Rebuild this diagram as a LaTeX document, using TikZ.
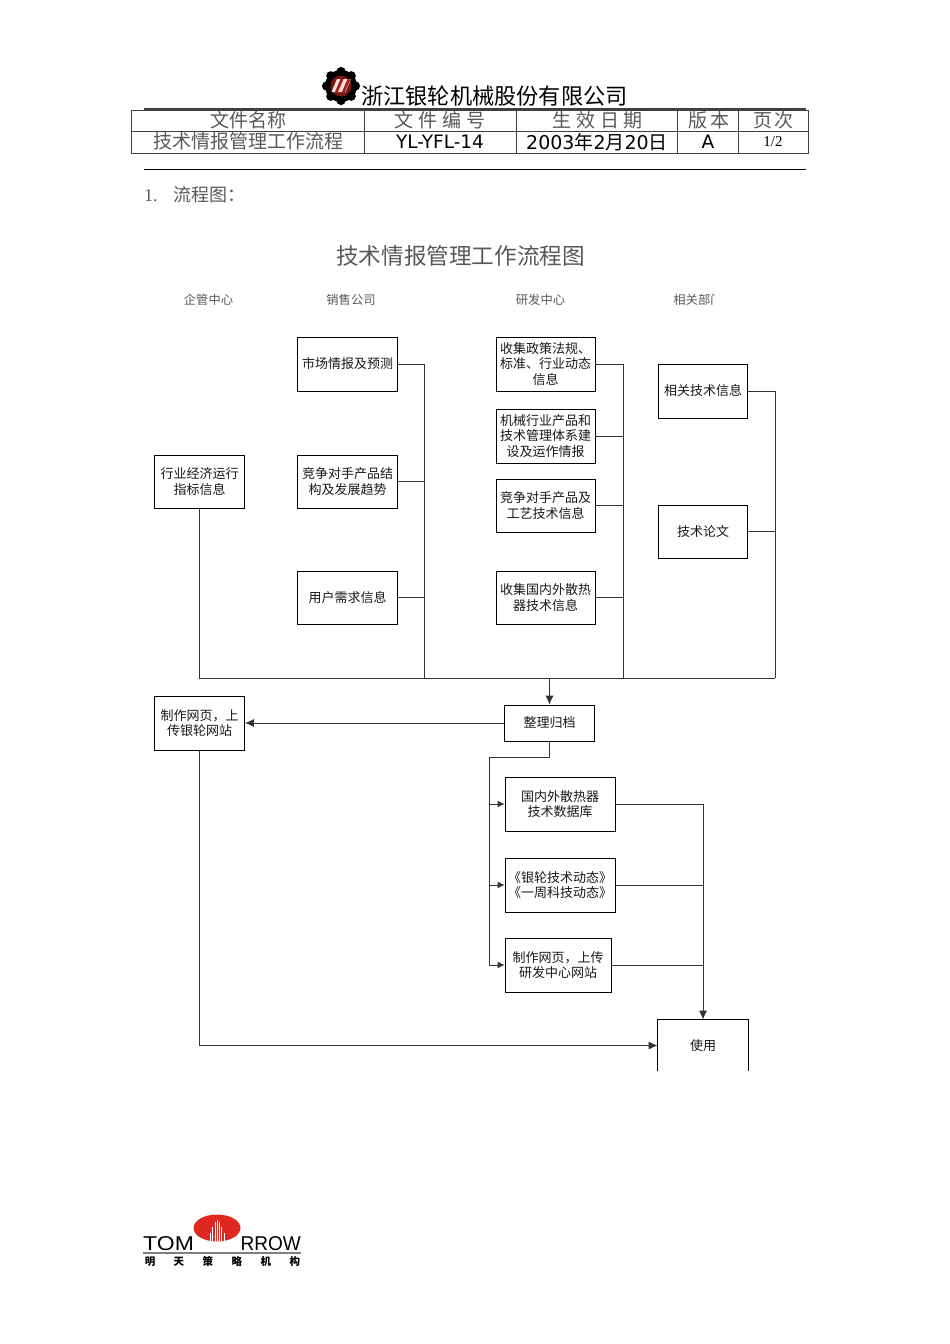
\documentclass[tikz,border=0pt]{standalone}
\usepackage{fontspec}
\usetikzlibrary{arrows.meta}
\setmainfont{Liberation Serif}
\newfontfamily\cjk{Noto Sans CJK SC}
\newfontfamily\dvs{DejaVu Sans}
\newfontfamily\heros{Liberation Sans}
\newcommand{\fs}[1]{\fontsize{#1}{#1}\selectfont}
\definecolor{rulegray}{gray}{0.25}
\definecolor{lightink}{gray}{0.35}
\definecolor{logored}{RGB}{222,40,32}
\tikzset{
  flowbox/.style={draw=black,line width=0.8pt,inner sep=0pt,align=center,font=\cjk\fontsize{13}{15.2}\selectfont,text=black!90},
  link/.style={draw=black!80,line width=0.8pt},
  arrowlink/.style={link,-{Latex[length=9pt,width=8pt]}},
  smallarrow/.style={link,-{Latex[length=7pt,width=7pt]}},
  headcell/.style={inner sep=0pt,text=lightink,font=\cjk\fs{19}},
  lane/.style={inner sep=0pt,text=lightink,font=\cjk\fs{12.3}},
}
\begin{document}
\begin{tikzpicture}[x=1pt,y=-1pt]
\useasboundingbox (0,0) rectangle (950,1344);
\fill[white] (0,0) rectangle (950,1344);

% company logo
\fill[black] (341,86) circle (16);
\foreach \a in {0,45,...,315}{
  \fill[black,rotate around={\a:(341,86)}] (341,71.5) circle (4.6);
}
\fill[logored!55!black] (341,86) circle (10.5);
\fill[white!85!logored] (331.5,92) -- (337,79) -- (351,79) -- (345.5,92) -- cycle;
\fill[logored!75!black] (335,92) -- (340.5,79) -- (343.5,79) -- (338,92) -- cycle;
\fill[logored!75!black] (342,92) -- (347.5,79) -- (350.5,79) -- (345,92) -- cycle;
\node[inner sep=0pt,font=\cjk\fs{22.2},text=black] (company) at (494.5,96) {浙江银轮机械股份有限公司};

% head table
\draw[rulegray,line width=1.6pt] (144,109) -- (806,109);
\draw[rulegray,line width=0.9pt] (131,110) rectangle (808,153);
\draw[rulegray,line width=0.9pt] (131,131) -- (808,131);
\foreach \c in {364,516,677,738}{\draw[rulegray,line width=0.9pt] (\c,110) -- (\c,153);}
\node[headcell] (h1) at (248,120) {文件名称};
\node[headcell] (h2) at (440,120) {文\hspace{5pt}件\hspace{5pt}编\hspace{5pt}号};
\node[headcell] (h3) at (597.5,120) {生\hspace{5pt}效\hspace{5pt}日\hspace{5pt}期};
\node[headcell] (h4) at (709,120) {版\hspace{3pt}本};
\node[headcell] (h5) at (773.5,120) {页\hspace{3pt}次};
\node[headcell] (v1) at (248,141.5) {技术情报管理工作流程};
\node[inner sep=0pt,text=black,font=\dvs\fs{18.5}] (v2) at (440,142) {YL-YFL-14};
\node[inner sep=0pt,text=black,font=\fs{19}] (v3) at (597,142) {{\dvs 2003}{\cjk 年}{\dvs 2}{\cjk 月}{\dvs 20}{\cjk 日}};
\node[inner sep=0pt,text=black,font=\dvs\fs{18.5}] (v4) at (708,142) {A};
\node[inner sep=0pt,text=black,font=\fs{15}] (v5) at (773,142) {1/2};
\draw[black,line width=1pt] (144,169.5) -- (806,169.5);
\node[inner sep=0pt,anchor=west,text=lightink,font=\fs{18}] (sec) at (144,195) {1.\hspace{10pt}{\cjk\fs{18} 流程图：}};

% titles
\node[inner sep=0pt,text=lightink,font=\cjk\fs{22.6}] (title) at (460.5,255.5) {技术情报管理工作流程图};
\node[lane] (l1) at (208.5,299.5) {企管中心};
\node[lane] (l2) at (351,299.5) {销售公司};
\node[lane] (l3) at (540.5,299.5) {研发中心};
\begin{scope}
  \clip (660,285) rectangle (714,315);
  \node[lane] (l4) at (698,299.5) {相关部门};
\end{scope}

% boxes
\node[flowbox,minimum width=90pt,minimum height=53pt] (econ) at (199.5,481.5) {行业经济运行\\指标信息};
\node[flowbox,minimum width=100pt,minimum height=54pt] (market) at (347.5,364) {市场情报及预测};
\node[flowbox,minimum width=100pt,minimum height=53pt] (rival) at (347.5,481.5) {竞争对手产品结\\构及发展趋势};
\node[flowbox,minimum width=100pt,minimum height=53pt] (user) at (347.5,597.5) {用户需求信息};
\node[flowbox,minimum width=99pt,minimum height=54pt] (policy) at (545.5,364) {收集政策法规、\\标准、行业动态\\信息};
\node[flowbox,minimum width=99pt,minimum height=54pt] (mach) at (545.5,436) {机械行业产品和\\技术管理体系建\\设及运作情报};
\node[flowbox,minimum width=99pt,minimum height=53pt] (craft) at (545.5,505.5) {竞争对手产品及\\工艺技术信息};
\node[flowbox,minimum width=99pt,minimum height=53pt] (heat) at (545.5,597.5) {收集国内外散热\\器技术信息};
\node[flowbox,minimum width=89pt,minimum height=54pt] (rel) at (703,391) {相关技术信息};
\node[flowbox,minimum width=89pt,minimum height=53pt] (paper) at (703,531.5) {技术论文};
\node[flowbox,minimum width=90pt,minimum height=54pt] (web) at (199.5,723) {制作网页，上\\传银轮网站};
\node[flowbox,minimum width=90pt,minimum height=36pt] (arch) at (549.5,723) {整理归档};
\node[flowbox,minimum width=110pt,minimum height=54pt] (db) at (560,804) {国内外散热器\\技术数据库};
\node[flowbox,minimum width=110pt,minimum height=54pt] (dyn) at (560,885) {《银轮技术动态》\\《一周科技动态》};
\node[flowbox,minimum width=106pt,minimum height=54pt] (rdweb) at (558,965) {制作网页，上传\\研发中心网站};
\node[flowbox,draw=none,minimum width=90pt,minimum height=51pt] (use) at (703,1045.5) {使用};
\draw[black,line width=0.8pt] (use.south west) -- (use.north west) -- (use.north east) -- (use.south east);

% collecting bus
\coordinate (bL) at (199.5,678);
\coordinate (b1) at (424,678);
\coordinate (bA) at (549.5,678);
\coordinate (b2) at (623,678);
\coordinate (b3) at (775,678);
\draw[link] (econ.south) -- (bL) -- (b3);
\draw[link] (market.east) -| (b1);
\draw[link] (rival.east) -| (b1);
\draw[link] (user.east) -| (b1);
\draw[link] (policy.east) -| (b2);
\draw[link] (mach.east) -| (b2);
\draw[link] (craft.east) -| (b2);
\draw[link] (heat.east) -| (b2);
\draw[link] (rel.east) -| (b3);
\draw[link] (paper.east) -| (b3);
\draw[arrowlink] (bA) -- (arch.north);
\draw[arrowlink] (arch.west) -- (web.east);

% distribution
\coordinate (d1) at (549.5,757);
\coordinate (d2) at (489,757);
\draw[link] (arch.south) -- (d1) -- (d2) -- (489,965);
\draw[smallarrow] (489,804) -- (db.west);
\draw[smallarrow] (489,885) -- (dyn.west);
\draw[smallarrow] (489,965) -- (rdweb.west);
\coordinate (u) at (703,885);
\draw[link] (dyn.east) -- (u);
\draw[link] (rdweb.east) -| (u);
\draw[arrowlink] (db.east) -| (use.north);
\draw[arrowlink] (web.south) |- (use.west);

% Tomorrow logo
\fill[logored] (217,1228) ellipse [x radius=23.5,y radius=13.5];
\foreach \dx/\top in {-7/1233,-4.5/1227,-2/1222,0/1220,2/1222,4.5/1227,7/1233}{
  \draw[white,line width=0.7pt] (217+\dx,1242) -- (217+\dx,\top);
}
\node[inner sep=0pt,anchor=west,text=black,font=\heros\fs{20},xscale=1.15] (tom) at (143,1244) {TOM};
\node[inner sep=0pt,anchor=east,text=black,font=\heros\fs{20},xscale=0.95] (row) at (301,1244) {RROW};
\draw[gray,line width=1.4pt] (143,1253) -- (301,1253);
\node[inner sep=0pt,text=black,font=\cjk\bfseries\fs{10.5}] (org) at (222.5,1261) {明\hspace{18.5pt}天\hspace{18.5pt}策\hspace{18.5pt}略\hspace{18.5pt}机\hspace{18.5pt}构};
\end{tikzpicture}
\end{document}
